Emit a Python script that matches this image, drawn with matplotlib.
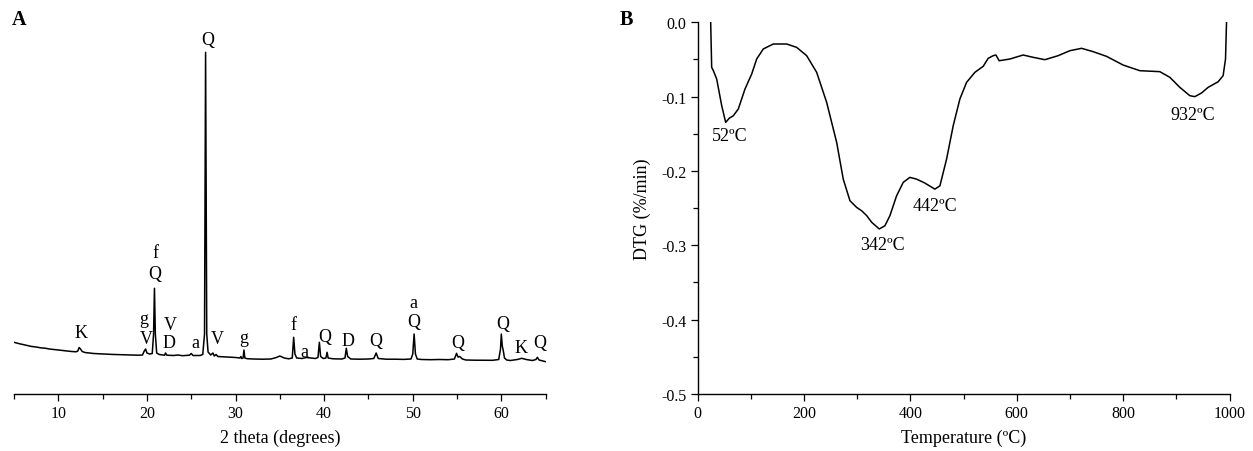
import matplotlib
matplotlib.use("Agg")
import matplotlib.pyplot as plt
from matplotlib.ticker import MultipleLocator

plt.rcParams['font.family'] = ['Liberation Serif', 'DejaVu Serif']

# ---------------- Panel A: XRD pattern ----------------
xrd_theta = [5.0, 5.5, 6.0, 6.5, 7.0, 7.5, 8.0, 8.5, 9.0, 9.5, 10.0, 10.5, 11.0, 11.5,
             12.0, 12.2, 12.35, 12.5, 12.7, 13.0, 13.5, 14.0, 15.0, 16.0, 17.0, 18.0,
             19.0, 19.5, 19.7, 19.85, 20.0, 20.3, 20.6, 20.75, 20.85, 20.95, 21.1, 21.4,
             22.0, 22.1, 22.25, 23.0, 23.5, 24.0, 24.8, 25.0, 25.2, 26.0, 26.3, 26.5,
             26.62, 26.75, 26.9, 27.2, 27.45, 27.6, 27.8, 28.0, 29.0, 30.0, 30.5, 30.6,
             30.7, 30.85, 30.95, 31.05, 31.3, 32.0, 33.0, 34.0, 34.6, 35.0, 35.5, 36.0,
             36.4, 36.56, 36.7, 36.9, 37.5, 38.0, 38.5, 39.0, 39.3, 39.46, 39.6, 39.9,
             40.2, 40.33, 40.45, 41.0, 42.0, 42.35, 42.5, 42.65, 43.0, 44.0, 45.0, 45.6,
             45.87, 46.1, 47.0, 48.0, 49.0, 49.8, 50.0, 50.15, 50.3, 50.5, 51.0, 52.0,
             53.0, 54.0, 54.7, 54.94, 55.1, 55.3, 55.6, 56.0, 57.0, 58.0, 59.0, 59.7,
             59.9, 59.99, 60.1, 60.2, 60.35, 60.6, 61.0, 61.8, 62.3, 62.8, 63.5, 63.9,
             64.06, 64.25, 65.0]
xrd_int = [51.7, 50.5, 49.5, 48.5, 47.5, 47.0, 46.2, 45.8, 45.0, 44.5, 44.0, 43.5, 43.0, 42.5,
           42.2, 43.0, 46.5, 45.0, 42.5, 41.5, 41.0, 40.5, 40.0, 39.6, 39.3, 39.0,
           38.8, 39.0, 43.0, 45.0, 41.0, 40.0, 40.5, 60.0, 105.7, 60.0, 41.0, 39.5,
           38.8, 41.0, 38.8, 38.5, 39.0, 38.3, 38.8, 40.5, 38.5, 38.5, 39.5, 60.0,
           341.7, 60.0, 42.0, 39.0, 41.0, 38.0, 39.5, 37.5, 37.0, 36.5, 36.0, 37.5,
           35.5, 36.0, 44.0, 36.0, 35.3, 35.0, 34.8, 35.0, 36.5, 38.0, 36.0, 35.2,
           36.0, 56.7, 40.0, 36.0, 35.5, 36.5, 36.0, 35.5, 36.5, 51.7, 37.5, 35.5,
           36.0, 41.7, 36.0, 35.2, 35.0, 36.0, 45.7, 37.5, 35.0, 34.8, 35.0, 35.5,
           41.0, 35.5, 34.8, 34.8, 34.6, 35.0, 40.0, 60.0, 40.0, 35.0, 34.5, 34.3,
           34.5, 34.3, 35.0, 40.7, 37.0, 37.5, 35.0, 34.0, 33.8, 33.8, 33.7, 34.5,
           45.0, 60.0, 48.0, 44.0, 36.0, 34.0, 33.5, 34.5, 35.7, 34.5, 33.5, 34.5,
           36.7, 34.0, 32.3]

xrd_labels = ["K", "g", "V", "f", "Q", "V", "D", "a", "Q", "V", "g", "f", "a",
              "Q", "D", "Q", "a", "Q", "Q", "Q", "K", "Q"]
xrd_label_x = [12.53, 19.69, 19.88, 20.93, 20.85, 22.67, 22.51, 25.42, 26.85, 27.9,
               30.95, 36.56, 37.8, 40.03, 42.66, 45.87, 50.12, 50.12, 55.09, 60.14,
               62.18, 64.29]
xrd_label_y = [61.7, 75.7, 55.7, 141.0, 120.7, 70.0, 51.7, 51.7, 354.3, 55.0,
               56.7, 70.0, 42.7, 57.7, 53.3, 53.3, 91.7, 72.3, 51.7, 71.0,
               46.7, 51.7]

# ---------------- Panel B: DTG curve ----------------
dtg_temp = [24.4, 26.3, 29.4, 35.7, 45.1, 52.6, 59.4, 66.9, 76.3, 88.9, 101.5, 110.9,
            123.3, 142.1, 167.3, 186.0, 204.9, 223.7, 242.5, 261.3, 273.7, 286.3,
            298.9, 308.3, 317.7, 327.1, 341.4, 352.1, 361.5, 374.0, 386.5, 399.0,
            411.7, 427.3, 446.0, 455.5, 468.0, 480.5, 493.0, 505.6, 521.2, 536.9,
            546.2, 555.6, 560.7, 566.9, 587.0, 612.0, 630.8, 652.8, 677.8, 699.8,
            721.8, 743.6, 768.8, 800.0, 831.4, 869.0, 887.8, 906.6, 925.4, 934.8,
            947.4, 959.8, 978.6, 988.0, 992.5, 994.4]
dtg_val = [0.0, -0.0606, -0.065, -0.0763, -0.112, -0.1346, -0.129, -0.1257, -0.1167,
           -0.0898, -0.0696, -0.0494, -0.0359, -0.0292, -0.0292, -0.0337, -0.0449,
           -0.0673, -0.1077, -0.1615, -0.211, -0.240, -0.249, -0.2535, -0.260, -0.269,
           -0.278, -0.2737, -0.260, -0.2334, -0.2153, -0.2086, -0.211, -0.2163,
           -0.2244, -0.2199, -0.184, -0.139, -0.1032, -0.0808, -0.0673, -0.0592,
           -0.0485, -0.0449, -0.044, -0.0517, -0.0494, -0.044, -0.0471, -0.0503,
           -0.0449, -0.0382, -0.035, -0.0395, -0.0458, -0.0575, -0.0651, -0.0664,
           -0.074, -0.0875, -0.0987, -0.100, -0.0951, -0.0875, -0.080, -0.0718,
           -0.0494, 0.0]

dtg_labels = ["52ºC", "342ºC", "442ºC", "932ºC"]
dtg_label_x = [60.7, 347.0, 446.0, 931.6]
dtg_label_y = [-0.1526, -0.2984, -0.2468, -0.1234]

# ---------------- Figure ----------------
W, H = 1253, 452
fig = plt.figure(figsize=(W / 100, H / 100), dpi=100)

def frac(x0, y_bottom, x1, y_top):
    return [x0 / W, (H - y_bottom) / H, (x1 - x0) / W, (y_bottom - y_top) / H]

tick_kw = dict(direction='out', labelsize=11.5, width=0.9, color='black')

# Panel A
axA = fig.add_axes(frac(14, 395, 545.7, 23.3))
axA.plot(xrd_theta, xrd_int, color='black', lw=1.1)
axA.set_xlim(5, 65)
axA.set_ylim(0, 371.7)
for s in ['left', 'right', 'top']:
    axA.spines[s].set_visible(False)
axA.spines['bottom'].set_linewidth(1.0)
axA.set_yticks([])
axA.xaxis.set_major_locator(MultipleLocator(10))
axA.xaxis.set_minor_locator(MultipleLocator(5))
axA.tick_params(axis='x', which='major', length=5, pad=3.2, **tick_kw)
axA.tick_params(axis='x', which='minor', length=3.5, width=0.9, direction='out')
axA.set_xlabel("2 theta (degrees)", fontsize=13, labelpad=5)
for t, x, y in zip(xrd_labels, xrd_label_x, xrd_label_y):
    axA.text(x, y, t, ha='center', va='center', fontsize=13)
fig.text(19 / W, 1 - 20 / H, "A", ha='center', va='center', fontsize=14.5, fontweight='bold')

# Panel B
axB = fig.add_axes(frac(697.7, 395, 1229.5, 23.3))
axB.plot(dtg_temp, dtg_val, color='black', lw=1.1)
axB.set_xlim(0, 1000)
axB.set_ylim(-0.5, 0.0)
for s in ['right', 'top']:
    axB.spines[s].set_visible(False)
axB.spines['bottom'].set_linewidth(1.0)
axB.spines['left'].set_linewidth(1.0)
axB.xaxis.set_major_locator(MultipleLocator(200))
axB.xaxis.set_minor_locator(MultipleLocator(100))
axB.yaxis.set_major_locator(MultipleLocator(0.1))
axB.yaxis.set_minor_locator(MultipleLocator(0.05))
axB.tick_params(axis='both', which='major', length=5, pad=3.2, **tick_kw)
axB.tick_params(axis='both', which='minor', length=3.5, width=0.9, direction='out')
axB.yaxis.set_major_formatter(plt.FuncFormatter(lambda v, p: f"{v:.1f}".replace("-0.0", "0.0")))
axB.set_xlabel("Temperature (ºC)", fontsize=13, labelpad=5)
axB.set_ylabel("DTG (%/min)", fontsize=13, labelpad=7)
for t, x, y in zip(dtg_labels, dtg_label_x, dtg_label_y):
    axB.text(x, y, t, ha='center', va='center', fontsize=13)
fig.text(626 / W, 1 - 20 / H, "B", ha='center', va='center', fontsize=14.5, fontweight='bold')

fig.savefig("out.png", dpi=100)
